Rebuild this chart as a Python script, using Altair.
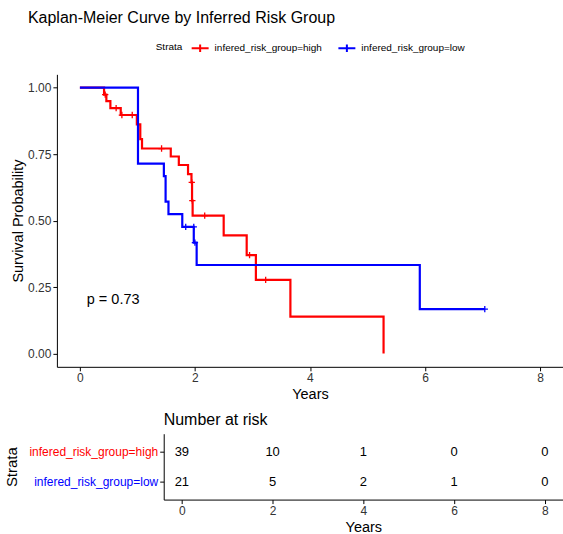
import altair as alt
import pandas as pd

FONT = "Liberation Sans"

HIGH = "infered_risk_group=high"
LOW = "infered_risk_group=low"
strata_names = [HIGH, LOW]
strata_colors = ["#FF0000", "#0000FF"]

# Kaplan-Meier step points: time (years) and survival probability after each event
high_time = [0.00, 0.42, 0.46, 0.53, 0.71, 0.99, 1.05, 1.08, 1.58, 1.72, 1.88,
             1.94, 1.95, 1.96, 2.50, 2.90, 3.06, 3.66, 5.28]
high_surv = [1.000, 0.974, 0.949, 0.923, 0.897, 0.862, 0.806, 0.771, 0.741, 0.709, 0.675,
             0.644, 0.575, 0.519, 0.444, 0.370, 0.277, 0.139, 0.000]
low_time = [0.00, 1.01, 1.46, 1.49, 1.54, 1.78, 1.98, 2.03, 5.91, 7.04]
low_surv = [1.000, 0.714, 0.667, 0.571, 0.524, 0.476, 0.417, 0.333, 0.167, 0.167]

# censored observations
high_cens_time = [0.44, 0.63, 0.73, 0.91, 1.42, 1.945, 1.955, 2.17, 2.95, 3.23]
high_cens_surv = [0.974, 0.923, 0.897, 0.897, 0.771, 0.644, 0.575, 0.519, 0.370, 0.277]
low_cens_time = [1.84, 1.98, 2.00, 7.04]
low_cens_surv = [0.476, 0.476, 0.417, 0.167]

# log-rank test
p_value = 0.73

# number at risk
risk_years = [0, 2, 4, 6, 8]
risk_high = [39, 10, 1, 0, 0]
risk_low = [21, 5, 2, 1, 0]

year_ticks = [0, 2, 4, 6, 8]
surv_ticks = [0, 0.25, 0.5, 0.75, 1.0]

curves = pd.DataFrame({
    "time": high_time + low_time,
    "surv": high_surv + low_surv,
    "strata": [HIGH] * len(high_time) + [LOW] * len(low_time),
})
censored = pd.DataFrame({
    "time": high_cens_time + low_cens_time,
    "surv": high_cens_surv + low_cens_surv,
    "strata": [HIGH] * len(high_cens_time) + [LOW] * len(low_cens_time),
})
risk = pd.DataFrame({
    "year": risk_years + risk_years,
    "n": risk_high + risk_low,
    "strata": [HIGH] * len(risk_years) + [LOW] * len(risk_years),
})
pval = pd.DataFrame({"label": [f"p = {p_value:.2f}"]})

PLOT_W = 507
TABLE_INSET = 107  # room inside the table row for the strata labels

x_scale = alt.Scale(domain=[-0.4, 8.4], nice=False, zero=False)
y_scale = alt.Scale(domain=[-0.05, 1.05], nice=False, zero=False)
color_scale = alt.Scale(domain=strata_names, range=strata_colors)

x_enc = alt.X("time:Q", scale=x_scale,
              axis=alt.Axis(values=year_ticks, format="d", title="Years"))
y_enc = alt.Y("surv:Q", scale=y_scale,
              axis=alt.Axis(values=surv_ticks, format=".2f", title="Survival Probability",
                            titlePadding=2))

legend = alt.Legend(
    orient="none", legendX=99, legendY=-36, direction="horizontal",
    title="Strata", titleOrient="left", titleFontSize=10, titleFontWeight="normal",
    titlePadding=8, labelFontSize=10, labelOffset=5, columnPadding=12,
    symbolType="M-1,0L1,0M0,-0.45L0,0.45", symbolSize=289, symbolStrokeWidth=2,
)

lines = alt.Chart(curves).mark_line(interpolate="step-after", strokeWidth=2.2).encode(
    x=x_enc, y=y_enc,
    color=alt.Color("strata:N", scale=color_scale, legend=legend),
)

marks = alt.Chart(censored).mark_point(
    shape="M-1,0L1,0M0,-1L0,1", size=40, strokeWidth=1.3, filled=False, opacity=1
).encode(
    x="time:Q", y="surv:Q",
    color=alt.Color("strata:N", scale=color_scale, legend=None),
)

ptext = alt.Chart(pval).mark_text(
    align="left", baseline="middle", fontSize=14.5, font=FONT, color="black"
).encode(x=alt.datum(0.12), y=alt.datum(0.2), text="label:N")

main = alt.layer(lines, marks, ptext).properties(
    width=PLOT_W, height=293,
    title=alt.TitleParams("Kaplan-Meier Curve by Inferred Risk Group", anchor="start",
                          frame="group", fontSize=16, fontWeight="normal", offset=48,
                          dx=-29),
)

label_color = alt.ExprRef(
    expr=f"datum.value === '{HIGH}' ? '{strata_colors[0]}' : '{strata_colors[1]}'")

table = alt.Chart(risk).mark_text(fontSize=13, font=FONT, color="black").encode(
    x=alt.X("year:Q",
            scale=alt.Scale(domain=[-0.4, 8.4], nice=False, zero=False,
                            range=[TABLE_INSET, PLOT_W]),
            axis=alt.Axis(values=year_ticks, format="d", title="Years",
                          titleX=TABLE_INSET + (PLOT_W - TABLE_INSET) / 2)),
    y=alt.Y("strata:N", sort=strata_names, scale=alt.Scale(type="point", padding=0.6),
            axis=alt.Axis(title="Strata", labelColor=label_color, labelFontSize=12,
                          titleFontSize=15, titlePadding=9, offset=-TABLE_INSET)),
    text="n:Q",
).properties(
    width=PLOT_W, height=66,
    title=alt.TitleParams("Number at risk", anchor="start", frame="group",
                          fontSize=16, fontWeight="normal", offset=6, dx=TABLE_INSET),
)

chart = alt.vconcat(main, table, spacing=10).properties(
    padding={"left": 4, "top": 10, "right": 0, "bottom": 0}
).configure(font=FONT).configure_view(stroke=None).configure_axis(
    grid=False, domainColor="black", tickColor="black", domainWidth=1, tickWidth=1,
    tickSize=4, labelColor="#333333", labelFontSize=12, labelPadding=2,
    titleColor="black", titleFontSize=14.5, titleFontWeight="normal", labelFont=FONT,
    titleFont=FONT,
).configure_title(color="black", font=FONT).configure_legend(
    labelColor="black", titleColor="black", labelFont=FONT, titleFont=FONT
)

chart.save("out.html", embed_options={"renderer": "svg", "actions": False})
